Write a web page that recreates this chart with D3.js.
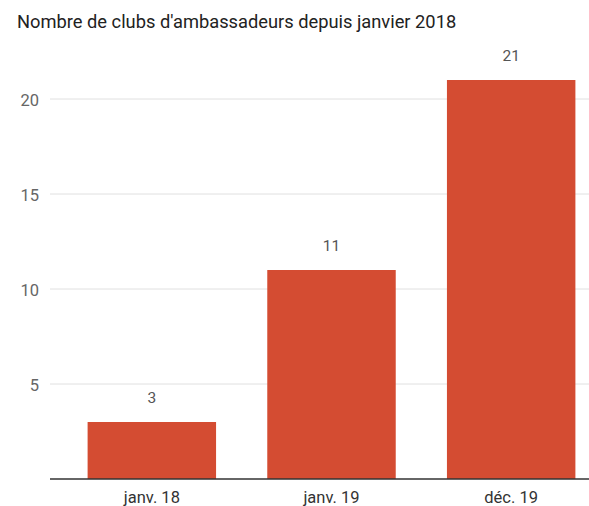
<!DOCTYPE html>
<html><head><meta charset="utf-8">
<script src="https://cdn.jsdelivr.net/npm/d3@7"></script>
<style>body{margin:0;background:#fff}svg{display:block}</style>
</head><body>
<svg id="c" width="589" height="506"></svg>
<script>
const title = "Nombre de clubs d'ambassadeurs depuis janvier 2018";
const categories = ["janv. 18", "janv. 19", "déc. 19"];
const values = [3, 11, 21];
const yTicks = [5, 10, 15, 20];

const svg = d3.select("#c");
const font = "Roboto, 'Noto Sans', sans-serif";
const x = d3.scaleBand().domain(categories).range([62, 601]).paddingInner(0.285).paddingOuter(0.1425);
const y = d3.scaleLinear().domain([0, 20]).range([479, 99]);

svg.append("text").attr("x", 17).attr("y", 27.5).attr("font-family", font)
  .attr("font-size", 18.3).attr("fill", "#222").text(title);

const grid = svg.append("g");
grid.selectAll("line").data(yTicks).join("line")
  .attr("x1", 50).attr("x2", 589).attr("y1", d => y(d)).attr("y2", d => y(d))
  .attr("stroke", "#e0e0e0").attr("stroke-width", 1);
grid.selectAll("text").data(yTicks).join("text")
  .attr("x", 39).attr("y", d => y(d) + 1.5).attr("text-anchor", "end").attr("dominant-baseline", "central")
  .attr("font-family", font).attr("font-size", 16.5).attr("fill", "#666").text(d => d);

svg.append("g").selectAll("rect").data(values).join("rect")
  .attr("x", (d, i) => x(categories[i])).attr("width", x.bandwidth())
  .attr("y", d => y(d)).attr("height", d => y(0) - y(d)).attr("fill", "#d44c32");

svg.append("g").selectAll("text").data(values).join("text")
  .attr("x", (d, i) => x(categories[i]) + x.bandwidth() / 2).attr("y", d => y(d) - 19)
  .attr("text-anchor", "middle").attr("font-family", font).attr("font-size", 15.5).attr("fill", "#555").text(d => d);

svg.append("line").attr("x1", 50).attr("x2", 589).attr("y1", y(0)).attr("y2", y(0))
  .attr("stroke", "#333").attr("stroke-width", 1.5);

svg.append("g").selectAll("text").data(categories).join("text")
  .attr("x", d => x(d) + x.bandwidth() / 2).attr("y", 502.5)
  .attr("text-anchor", "middle").attr("font-family", font).attr("font-size", 16.5).attr("fill", "#333").text(d => d);
</script>
</body></html>
